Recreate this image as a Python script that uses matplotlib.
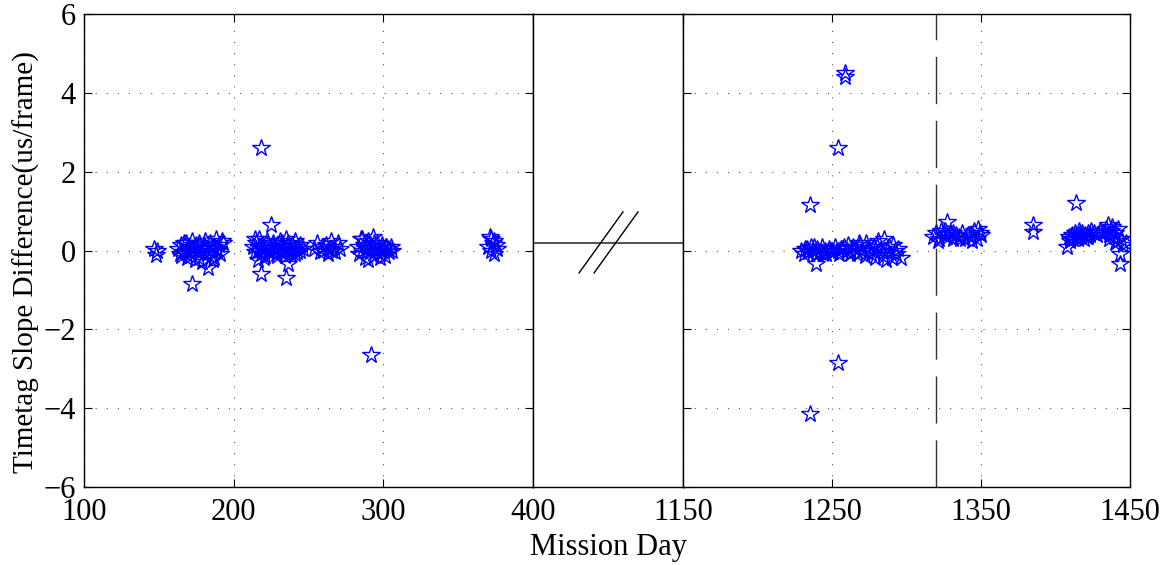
import matplotlib
matplotlib.use("Agg")
import matplotlib.pyplot as plt

plt.rcParams['font.family'] = ['Liberation Serif', 'DejaVu Serif']
plt.rcParams['axes.unicode_minus'] = True

# ---------------- data ----------------
left_days = [147, 148, 149,
             163, 164, 165, 166, 167, 168, 169, 170, 171, 172, 172, 173, 174, 175, 176, 177, 178, 179,
             180, 181, 182, 183, 183, 184, 185, 186, 187, 188, 189, 190, 191, 192, 193,
             165, 168, 171, 174, 177, 180, 186, 189,
             218, 216, 218, 225, 235, 236,
             213, 214, 215, 216, 217, 218, 219, 220, 221, 222, 223, 224, 225, 226, 227, 228, 229, 230,
             231, 232, 233, 234, 235, 236, 237, 238, 239, 240, 241, 242, 243, 244, 246,
             214, 217, 220, 223, 226, 229, 232, 235, 238, 241, 244,
             254, 256, 258, 259, 260, 262, 263, 264, 265, 266, 267, 268, 270, 271,
             283, 284, 285, 286, 287, 288, 289, 290, 291, 292, 292, 293, 294, 295, 296, 297, 298, 299,
             300, 301, 302, 303, 304, 305, 306, 286, 290, 294, 298, 302,
             370, 371, 372, 373, 374, 375, 376, 372, 374]
left_vals = [0.05, -0.12, 0.0,
             0.05, -0.1, 0.15, -0.05, 0.2, 0.0, -0.2, 0.1, -0.15, -0.85, 0.25, 0.05, -0.25, 0.15, -0.05,
             0.2, 0.0, -0.3, 0.1, 0.25, -0.1, -0.45, 0.05, 0.2, -0.15, 0.1, -0.2, 0.3, 0.0, 0.15, -0.1,
             0.25, 0.2,
             -0.15, 0.2, 0.0, 0.1, -0.2, 0.15, -0.25, 0.05,
             2.6, -0.25, -0.6, 0.65, -0.7, -0.35,
             0.1, -0.05, 0.2, 0.0, 0.3, -0.1, 0.15, 0.05, -0.15, 0.25, 0.0, 0.1, -0.05, 0.2, 0.05, -0.1,
             0.15, 0.0, 0.25, -0.05, 0.1, -0.15, 0.05, 0.2, 0.0, -0.1, 0.15, 0.05, 0.25, -0.05, 0.1, 0.0,
             0.05,
             0.3, 0.1, -0.2, 0.15, 0.0, -0.15, 0.2, 0.3, 0.0, -0.1, 0.15,
             0.05, 0.2, -0.05, 0.1, 0.0, 0.15, -0.1, 0.05, 0.25, 0.0, 0.1, -0.05, 0.2, 0.05,
             0.1, -0.1, 0.3, 0.0, 0.15, -0.2, 0.05, 0.25, -0.05, -2.65, 0.1, 0.35, -0.15, 0.0, 0.2, 0.05,
             -0.1, 0.15, 0.0, -0.15, 0.1, 0.05, -0.05, 0.1, 0.0, 0.3, -0.25, 0.2, -0.2, 0.1,
             0.1, 0.35, 0.0, 0.2, -0.1, 0.15, 0.05, 0.3, 0.25]

right_days = [1235, 1235, 1254, 1254, 1259, 1259,
              1229, 1231, 1233, 1234, 1236, 1237, 1239, 1239, 1240, 1242, 1243, 1245, 1246, 1248, 1249,
              1251, 1252, 1254, 1255, 1257, 1258, 1260, 1261, 1263, 1264, 1266, 1267, 1269, 1270, 1272,
              1273, 1275, 1276, 1278, 1279, 1281, 1282, 1284, 1285, 1287, 1288, 1290, 1291, 1293, 1294,
              1296,
              1232, 1238, 1244, 1250, 1256, 1262, 1268, 1274, 1280, 1286, 1292,
              1318, 1320, 1322, 1323, 1325, 1327, 1327, 1329, 1331, 1333, 1335, 1337, 1339, 1341, 1343,
              1345, 1347, 1349, 1350, 1321, 1326, 1331, 1336, 1344, 1348,
              1385, 1385, 1414,
              1408, 1409, 1410, 1411, 1412, 1413, 1414, 1415, 1416, 1417, 1418, 1419, 1420, 1421, 1422,
              1423, 1424, 1426, 1428, 1430, 1432, 1434, 1435, 1436, 1437, 1438, 1439, 1440, 1441, 1442,
              1443, 1443, 1444, 1445, 1447, 1410, 1416, 1422, 1436, 1440]
right_vals = [1.15, -4.15, 2.6, -2.85, 4.5, 4.4,
              0.0, -0.1, 0.05, -0.05, 0.1, 0.0, -0.35, -0.1, 0.05, -0.05, 0.1, 0.0, -0.1, 0.05, 0.0,
              -0.05, 0.1, 0.0, -0.1, 0.05, 0.1, 0.0, 0.15, -0.05, 0.1, 0.05, -0.1, 0.15, 0.0, -0.15,
              0.2, 0.05, -0.1, 0.1, -0.2, 0.25, 0.0, -0.15, 0.3, -0.05, 0.1, -0.2, 0.15, -0.1, 0.05,
              -0.2,
              0.05, 0.1, -0.1, -0.05, 0.05, -0.1, 0.2, -0.05, 0.1, -0.25, 0.0,
              0.35, 0.45, 0.3, 0.5, 0.4, 0.72, 0.35, 0.45, 0.3, 0.4, 0.35, 0.45, 0.3, 0.4, 0.35,
              0.5, 0.3, 0.45, 0.4, 0.25, 0.5, 0.45, 0.3, 0.25, 0.55,
              0.65, 0.47, 1.2,
              0.1, 0.35, 0.25, 0.4, 0.3, 0.45, 0.35, 0.3, 0.4, 0.35, 0.45, 0.3, 0.4, 0.35, 0.45,
              0.4, 0.5, 0.45, 0.4, 0.5, 0.45, 0.55, 0.65, 0.4, 0.5, 0.6, 0.35, 0.45, 0.25, 0.55,
              -0.1, -0.35, 0.3, 0.15, 0.2, 0.3, 0.5, 0.35, 0.3, 0.2]

left_ticks = [100, 200, 300, 400]
right_ticks = [1150, 1250, 1350, 1450]
y_ticks = [-6, -4, -2, 0, 2, 4, 6]
event_day = 1320
break_level = 0.19

xlabel = "Mission Day"
ylabel = "Timetag Slope Difference(us/frame)"

# ---------------- figure ----------------
W, H = 1174, 565
fig = plt.figure(figsize=(W / 100, H / 100), dpi=100)

bottom = 1 - 487 / H
height = (487 - 14) / H
axL = fig.add_axes([84 / W, bottom, (533 - 84) / W, height])
axM = fig.add_axes([533 / W, bottom, (683 - 533) / W, height])
axR = fig.add_axes([683 / W, bottom, (1130 - 683) / W, height])

FS = 22
grid_style = dict(color='0.35', linestyle=(0, (1, 9)), linewidth=0.8)
mk = dict(marker='*', linestyle='none', markersize=13, markerfacecolor='none',
          markeredgecolor='blue', markeredgewidth=1.0)

for ax, xs, ys, xt in [(axL, left_days, left_vals, left_ticks),
                       (axR, right_days, right_vals, right_ticks)]:
    ax.plot(xs, ys, **mk, zorder=3)
    ax.set_xlim(xt[0], xt[-1])
    ax.set_ylim(-6, 6)
    ax.set_xticks(xt)
    ax.set_yticks(y_ticks)
    ax.grid(True, **grid_style)
    ax.tick_params(direction='in', length=6, width=0.8, top=True, right=True,
                   labelsize=FS)
    ax.tick_params(axis='x', pad=8)
    ax.tick_params(axis='y', pad=6)
    for s in ax.spines.values():
        s.set_linewidth(1.0)
    ax.set_axisbelow(True)

axR.set_yticklabels([])
axR.axvline(event_day, color='0.2', linestyle=(0, (34, 12)), linewidth=1.0, zorder=2)

axL.set_ylabel(ylabel, fontsize=21)
axL.yaxis.set_label_coords(-0.098, 0.476)

# break panel
axM.set_xlim(0, 1)
axM.set_ylim(-6, 6)
axM.set_xticks([])
axM.set_yticks([])
for s in axM.spines.values():
    s.set_linewidth(1.0)
axM.axhline(break_level, color='0.2', linewidth=1.2)
axM.plot([0.307, 0.60], [-0.57, 0.98], color='black', linewidth=1.0)
axM.plot([0.407, 0.70], [-0.57, 0.98], color='black', linewidth=1.0)

fig.text(608 / W, 1 - 548 / H, xlabel, ha='center', va='center', fontsize=FS)

fig.savefig("out.png", dpi=100)
